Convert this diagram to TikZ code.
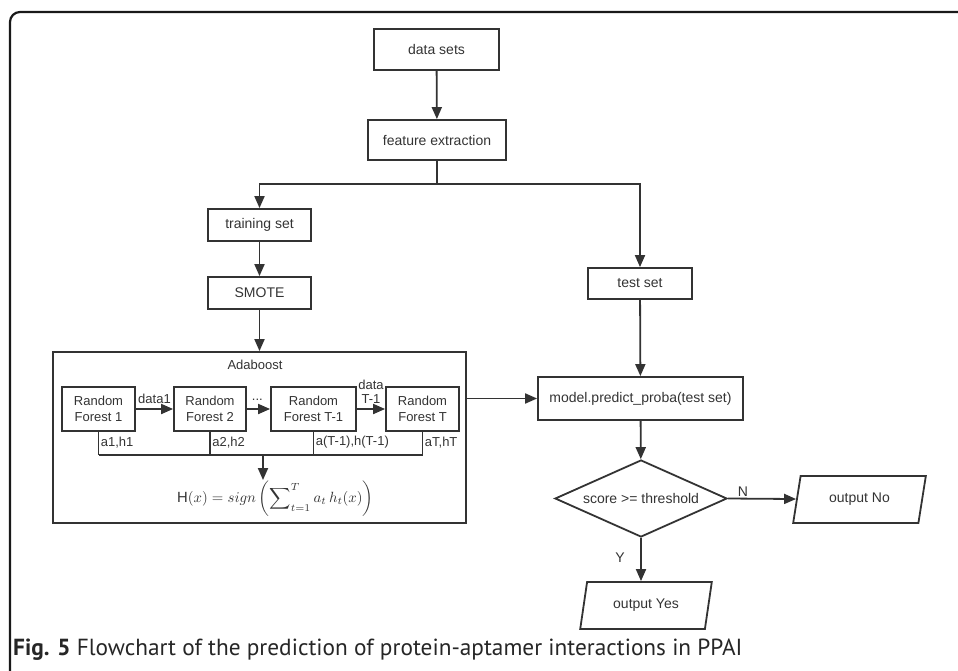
\documentclass[tikz,border=0pt]{standalone}
\usepackage{fontspec}
\usepackage{graphicx}
\setmainfont{Liberation Sans}
\newfontfamily\capfont{PT Sans}
\usetikzlibrary{arrows.meta,shapes.geometric}
\definecolor{ln}{HTML}{333333}
\tikzset{
  box/.style={draw=ln, line width=1.8pt, rectangle, inner sep=0pt, align=center, font=\fontsize{14}{16}\selectfont, text=ln},
  rfbox/.style={box, font=\fontsize{13}{15.5}\selectfont},
  arr/.style={draw=ln, line width=1.8pt, -{Triangle[length=12pt,width=10pt]}},
  ln/.style={draw=ln, line width=1.8pt},
  lbl/.style={font=\fontsize{13}{14}\selectfont, text=ln, inner sep=1.5pt},
  para/.style={box, trapezium, trapezium left angle=73, trapezium right angle=107, trapezium stretches=true},
}
\begin{document}
\begin{tikzpicture}[x=1pt,y=-1pt]
\useasboundingbox (0,0) rectangle (958,671);
% frame
\draw[line width=2.2pt, rounded corners=10pt, black!90] (10,675) -- (10,12) -- (962,12);

\node[box, minimum width=125pt, minimum height=41pt] (ds) at (436.5,49.5) {data sets};
\node[box, minimum width=138pt, minimum height=40pt] (fe) at (437,140) {feature extraction};
\coordinate (br) at (437,184);
\node[box, minimum width=103pt, minimum height=32pt] (tr) at (259.5,225) {training set};
\node[box, minimum width=103pt, minimum height=32pt] (sm) at (259.5,293) {SMOTE};
\node[box, minimum width=104pt, minimum height=31pt] (ts) at (640,283.5) {test set};

\node[box, minimum width=413pt, minimum height=171pt] (ada) at (259.5,437.5) {};
\node[lbl] (adl) at (255,365) {Adaboost};

\node[rfbox, minimum width=73pt, minimum height=44pt] (rf1) at (98.5,409) {Random\\Forest 1};
\node[rfbox, minimum width=72pt, minimum height=44pt] (rf2) at (210,409) {Random\\Forest 2};
\node[rfbox, minimum width=85pt, minimum height=44pt] (rf3) at (313.5,409) {Random\\Forest T-1};
\node[rfbox, minimum width=73pt, minimum height=44pt] (rf4) at (422.5,409) {Random\\Forest T};

\coordinate (bus) at (263,455);
\node[inner sep=1pt, text=ln, anchor=west] (fm) at (176,499)
  {\scalebox{1.48}{$\displaystyle \mathrm{H}(x) = sign\left(\sum\nolimits_{t=1}^{T} a_t\, h_t(x)\right)$}};

\node[box, minimum width=205pt, minimum height=43pt] (md) at (640.5,398.5) {model.predict\_proba(test set)};
\node[box, diamond, aspect=2.2, minimum width=172pt, minimum height=77pt] (dia) at (641,498.5) {score >= threshold};
\node[para, minimum width=133pt, minimum height=47pt] (no) at (859.5,499.5) {output No};
\node[para, minimum width=132pt, minimum height=47pt] (yes) at (646,605.5) {output Yes};

% connectors
\draw[arr] (ds) -- (fe);
\draw[ln] (fe.south) -- (br);
\draw[arr] (br) -| (tr.north);
\draw[arr] (br) -| (ts.north);
\draw[arr] (tr) -- (sm);
\draw[arr] (sm.south) -- (sm.south |- ada.north);
\draw[arr] (ts) -- (md);

\draw[arr] (rf1) -- node[lbl, above, pos=0.5, yshift=3pt] {data1} (rf2);
\draw[arr] (rf2) -- node[lbl, above, pos=0.45, yshift=6pt] {...} (rf3);
\draw[arr] (rf3) -- node[lbl, above, pos=0.5, align=center, yshift=3pt, font=\fontsize{13}{14}\selectfont] {data\\T-1} (rf4);

\draw[ln] (rf1.south) -- node[lbl, right, pos=0.45] {a1,h1} (rf1.south |- bus);
\draw[ln] (rf2.south) -- node[lbl, right, pos=0.45] {a2,h2} (rf2.south |- bus);
\draw[ln] (rf3.south) -- node[lbl, right, pos=0.45] {a(T-1),h(T-1)} (rf3.south |- bus);
\draw[ln] (rf4.south) -- node[lbl, right, pos=0.45] {aT,hT} (rf4.south |- bus);
\draw[ln] (rf1.south |- bus) -- (rf4.south |- bus);
\draw[arr] (bus) -- (bus |- fm.north);

\draw[arr] (ada.east |- md.west) -- (md.west);
\draw[arr] (md) -- (dia);
\draw[arr] (dia.east) -- node[lbl, above, pos=0.22, font=\fontsize{14}{16}\selectfont] {N} (no);
\draw[arr] (dia.south) -- node[lbl, left, pos=0.45, font=\fontsize{14}{16}\selectfont, xshift=-14pt] {Y} (dia.south |- yes.top side);

\node[anchor=west, inner sep=0pt, font=\capfont\fontsize{23.3}{26}\selectfont, text=black!85] (cap) at (13,650)
  {\textbf{Fig. 5} Flowchart of the prediction of protein-aptamer interactions in PPAI};
\end{tikzpicture}
\end{document}
